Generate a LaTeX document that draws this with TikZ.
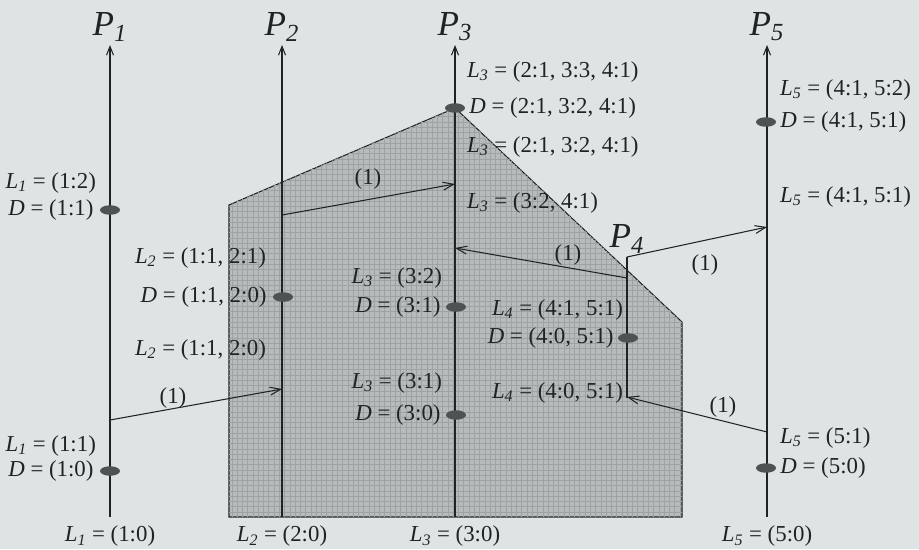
\documentclass[tikz,border=0pt]{standalone}
\usepackage{fontspec}
\setmainfont{Liberation Serif}
\usetikzlibrary{arrows.meta,positioning,shapes.geometric,patterns}
\definecolor{paper}{RGB}{224,227,227}
\definecolor{shade}{RGB}{184,187,187}
\definecolor{grain}{RGB}{158,162,162}
\definecolor{ink}{RGB}{32,35,35}
\definecolor{blob}{RGB}{78,82,82}
\newcommand{\Lv}[1]{\textit{L}\textsubscript{\textit{#1}}}
\newcommand{\Pv}[1]{\textit{P}\textsubscript{\textit{#1}}}

\begin{document}
\begin{tikzpicture}[x=0.02cm, y=-0.02cm, every node/.style={font=\fontsize{13}{15}\selectfont, text=ink, inner sep=1pt}, proc/.style={-{Straight Barb[length=5pt,width=4pt]}, draw=ink, line width=0.6pt}, msg/.style={-{Straight Barb[length=6pt,width=4.5pt]}, draw=ink, line width=0.6pt}, dot/.style={ellipse, fill=blob, minimum width=0.4cm, minimum height=0.19cm, inner sep=0pt}, pname/.style={font=\fontsize{20}{24}\selectfont}, area/.style={fill=shade, draw=ink, line width=0.6pt}]
\useasboundingbox (0,0) rectangle (919,549);
\fill[paper] (0,0) rectangle (919,549);
\filldraw[area] (229,205) -- (455,108) -- (682,322) -- (682,517) -- (229,517) -- cycle;
\fill[pattern=grid, pattern color=grain] (229,205) -- (455,108) -- (682,322) -- (682,517) -- (229,517) -- cycle;
\coordinate (p1b) at (110,517);
\coordinate (p1t) at (110,45);
\coordinate (p2b) at (282,517);
\coordinate (p2t) at (282,45);
\coordinate (p3b) at (455,517);
\coordinate (p3t) at (455,45);
\coordinate (p4b) at (627,398);
\coordinate (p4t) at (627,257);
\coordinate (p5b) at (767,517);
\coordinate (p5t) at (767,45);
\draw[proc] (p1b) -- (p1t);
\draw[proc] (p2b) -- (p2t);
\draw[proc] (p3b) -- (p3t);
\draw[draw=ink, line width=1.1pt] (p4b) -- (p4t);
\draw[proc] (p5b) -- (p5t);
\node[pname, above=1pt of p1t] (n1) {\Pv{1}};
\node[pname, above=1pt of p2t] (n2) {\Pv{2}};
\node[pname, above=1pt of p3t] (n3) {\Pv{3}};
\node[pname, above=1pt of p4t] (n4) {\Pv{4}};
\node[pname, above=1pt of p5t] (n5) {\Pv{5}};
\node[below=4pt of p1b] (b1) {\Lv{1} = (1:0)};
\node[below=4pt of p2b] (b2) {\Lv{2} = (2:0)};
\node[below=4pt of p3b] (b3) {\Lv{3} = (3:0)};
\node[below=4pt of p5b] (b5) {\Lv{5} = (5:0)};
\coordinate (a1s) at (110,420);
\coordinate (a1e) at (282,389);
\coordinate (a2s) at (282,215);
\coordinate (a2e) at (455,184);
\coordinate (a3s) at (627,278);
\coordinate (a3e) at (455,248);
\coordinate (a4s) at (627,257);
\coordinate (a4e) at (767,227);
\coordinate (a5s) at (767,432);
\coordinate (a5e) at (627,397);
\draw[msg] (a1s) -- (a1e);
\draw[msg] (a2s) -- (a2e);
\draw[msg] (a3s) -- (a3e);
\draw[msg] (a4s) -- (a4e);
\draw[msg] (a5s) -- (a5e);
\node (m1) at (173,398) {(1)};
\node (m2) at (368,179) {(1)};
\node (m3) at (568,255) {(1)};
\node (m4) at (705,265) {(1)};
\node (m5) at (723,407) {(1)};
\node[dot] (d1a) at (110,210) {};
\node[dot] (d1b) at (110,471) {};
\node[dot] (d2a) at (283,297) {};
\node[dot] (d3a) at (455,108) {};
\node[dot] (d3b) at (456,307) {};
\node[dot] (d3c) at (456,415) {};
\node[dot] (d4a) at (628,338) {};
\node[dot] (d5a) at (766,122) {};
\node[dot] (d5b) at (766,468) {};
\node[left=0.08cm of d1a] (t1a) {\textit{D} = (1:1)};
\node[left=0.08cm of d1b] (t1b) {\textit{D} = (1:0)};
\node[anchor=east] (l1a) at (98,183) {\Lv{1} = (1:2)};
\node[anchor=east] (l1b) at (98,446) {\Lv{1} = (1:1)};
\node[left=0.08cm of d2a] (t2a) {\textit{D} = (1:1, 2:0)};
\node[anchor=east] (l2a) at (268,258) {\Lv{2} = (1:1, 2:1)};
\node[anchor=east] (l2b) at (268,350) {\Lv{2} = (1:1, 2:0)};
\node[left=0.06cm of d3b] (t3b) {\textit{D} = (3:1)};
\node[left=0.06cm of d3c] (t3c) {\textit{D} = (3:0)};
\node[anchor=east] (l3a) at (444,278) {\Lv{3} = (3:2)};
\node[anchor=east] (l3b) at (444,383) {\Lv{3} = (3:1)};
\node[right=0.04cm of d3a] (t3a) {\textit{D} = (2:1, 3:2, 4:1)};
\node[anchor=west] (l3c) at (465,72) {\Lv{3} = (2:1, 3:3, 4:1)};
\node[anchor=west] (l3d) at (465,147) {\Lv{3} = (2:1, 3:2, 4:1)};
\node[anchor=west] (l3e) at (465,203) {\Lv{3} = (3:2, 4:1)};
\node[left=0.04cm of d4a] (t4a) {\textit{D} = (4:0, 5:1)};
\node[anchor=east] (l4a) at (625,310) {\Lv{4} = (4:1, 5:1)};
\node[anchor=east] (l4b) at (625,393) {\Lv{4} = (4:0, 5:1)};
\node[right=0.04cm of d5a] (t5a) {\textit{D} = (4:1, 5:1)};
\node[right=0.04cm of d5b] (t5b) {\textit{D} = (5:0)};
\node[anchor=west] (l5a) at (778,90) {\Lv{5} = (4:1, 5:2)};
\node[anchor=west] (l5b) at (778,197) {\Lv{5} = (4:1, 5:1)};
\node[anchor=west] (l5c) at (778,438) {\Lv{5} = (5:1)};
\end{tikzpicture}
\end{document}
